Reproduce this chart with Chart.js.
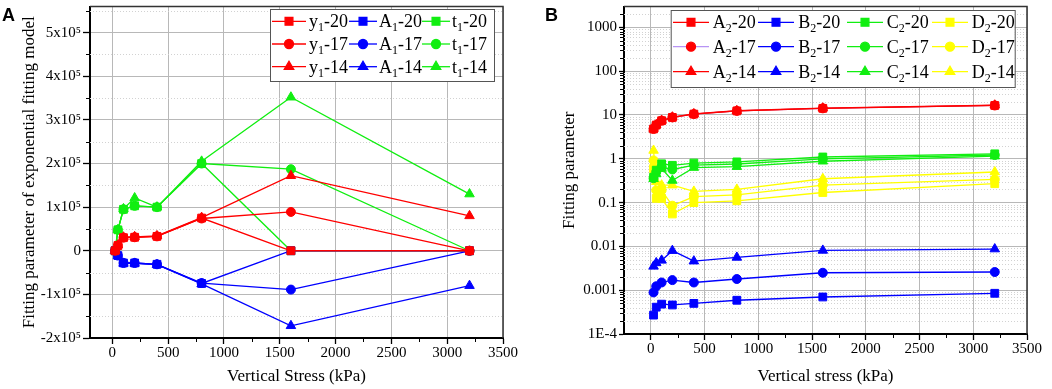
<!DOCTYPE html>
<html>
<head>
<meta charset="utf-8">
<script src="https://cdn.jsdelivr.net/npm/chart.js@4.4.1/dist/chart.umd.min.js"></script>
<style>
  body { margin: 0; background: #fff; }
  #wrap { position: relative; width: 1052px; height: 389px; overflow: hidden; }
  canvas { position: absolute; top: 0; }
  #ca { left: 0; }
  #cb { left: 520px; }
  .tag { position: absolute; font: bold 18px "Liberation Sans", Arial, sans-serif; color: #000; }
</style>
</head>
<body>
<div id="wrap">
  <canvas id="ca" width="520" height="389"></canvas>
  <canvas id="cb" width="532" height="389"></canvas>
  <div class="tag" style="left:2px;top:5px">A</div>
  <div class="tag" style="left:545px;top:5px">B</div>
</div>
<script>
// vertical stress levels (kPa)
var stress = [25, 50, 100, 200, 400, 800, 1600, 3200];

// panel A - exponential fitting model parameters
var y1_20 = [0, 12000, 30000, 31000, 33000, 75000, 0, 0];
var y1_17 = [0, 12000, 30000, 31000, 33000, 74000, 89000, 0];
var y1_14 = [0, 13000, 31000, 32000, 34000, 76000, 172000, 80000];
var A1_20 = [0, -11000, -28000, -28000, -31000, -75000, 0, 0];
var A1_17 = [0, -11000, -28000, -28000, -31000, -74000, -89000, 0];
var A1_14 = [0, -12000, -29000, -29000, -32000, -76000, -172000, -80000];
var t1_20 = [0, 48000, 95000, 103000, 100000, 200000, 0, 0];
var t1_17 = [0, 48000, 95000, 103000, 100000, 200000, 187000, 0];
var t1_14 = [0, 48000, 96000, 121000, 100000, 205000, 352000, 130000];

// panel B - fitting parameters (log axis)
var A2_20 = [4.8, 5.9, 7.4, 8.8, 10.5, 12.4, 14.2, 16.5];
var A2_17 = [4.8, 5.9, 7.4, 8.8, 10.5, 12.4, 14.2, 16.5];
var A2_14 = [4.9, 6.0, 7.5, 8.9, 10.6, 12.5, 14.3, 16.7];
var B2_20 = [0.00027, 0.00041, 0.00048, 0.00046, 0.0005, 0.00059, 0.0007, 0.00085];
var B2_17 = [0.00089, 0.00123, 0.0015, 0.0017, 0.0015, 0.0018, 0.0025, 0.0026];
var B2_14 = [0.0035, 0.0042, 0.0048, 0.008, 0.0046, 0.0056, 0.0081, 0.0087];
var C2_20 = [0.38, 0.55, 0.77, 0.71, 0.8, 0.85, 1.1, 1.3];
var C2_17 = [0.36, 0.5, 0.65, 0.57, 0.72, 0.76, 1.0, 1.22];
var C2_14 = [0.35, 0.45, 0.6, 0.32, 0.63, 0.66, 0.88, 1.15];
var D2_20 = [0.6, 0.125, 0.125, 0.055, 0.1, 0.11, 0.17, 0.27];
var D2_17 = [0.92, 0.19, 0.19, 0.085, 0.137, 0.15, 0.25, 0.34];
var D2_14 = [1.55, 0.3, 0.25, 0.25, 0.18, 0.2, 0.35, 0.5];

// ticks
var tickX = [0, 500, 1000, 1500, 2000, 2500, 3000, 3500];
var tickX_labels = ['0', '500', '1000', '1500', '2000', '2500', '3000', '3500'];
var tickA_y = [-200000, -100000, 0, 100000, 200000, 300000, 400000, 500000];
var tickA_yLabels = ['-2x10\u2075', '-1x10\u2075', '0', '1x10\u2075', '2x10\u2075', '3x10\u2075', '4x10\u2075', '5x10\u2075'];
var tickB_y = [0.0001, 0.001, 0.01, 0.1, 1, 10, 100, 1000];
var tickB_yLabels = ['1E-4', '0.001', '0.01', '0.1', '1', '10', '100', '1000'];

var RED = '#ff0000', BLUE = '#0000ff', GREEN = '#11ee11', YELLOW = '#ffff00';
var SERIF = '"Liberation Serif", "Times New Roman", serif';

Chart.defaults.font.family = SERIF;
Chart.defaults.color = '#000';

function series(label, data, color, shape, lineColor) {
  return {
    label: label,
    data: stress.map(function (x, i) { return { x: x, y: data[i] }; }),
    borderColor: lineColor || color,
    backgroundColor: color,
    pointBackgroundColor: color,
    pointBorderColor: color,
    pointBorderWidth: 1,
    pointStyle: shape,
    pointRadius: shape === 'circle' ? 4.5 : 5.5,
    borderWidth: 1.3,
    tension: 0
  };
}

function drawLabel(ctx, text, x, y) {
  ctx.textBaseline = 'alphabetic';
  ctx.textAlign = 'left';
  for (var i = 0; i < text.length; i++) {
    var code = text.charCodeAt(i), ch = text[i];
    if (code >= 0x2080 && code <= 0x2089) {
      ch = String(code - 0x2080);
      ctx.font = '12px ' + SERIF;
      ctx.fillText(ch, x, y + 4);
    } else {
      ctx.font = '18px ' + SERIF;
      ctx.fillText(ch, x, y);
    }
    x += ctx.measureText(ch).width;
  }
}

var extras = {
  id: 'extras',
  beforeDatasetsDraw: function (chart, args, o) {
    var ctx = chart.ctx, a = chart.chartArea, ys = chart.scales.y;
    ctx.save();
    ctx.strokeStyle = '#d2d2d2';
    ctx.lineWidth = 1;
    ctx.setLineDash([1, 2]);
    o.minorY.forEach(function (v) {
      var p = Math.round(ys.getPixelForValue(v)) + 0.5;
      if (p <= a.top + 1 || p >= a.bottom - 1) return;
      ctx.beginPath(); ctx.moveTo(a.left, p); ctx.lineTo(a.right, p); ctx.stroke();
    });
    ctx.restore();
  },
  afterDraw: function (chart, args, o) {
    var ctx = chart.ctx, a = chart.chartArea, xs = chart.scales.x, ys = chart.scales.y;
    ctx.save();
    ctx.strokeStyle = '#000';
    ctx.lineWidth = 1;
    o.minorY.forEach(function (v) {
      var p = Math.round(ys.getPixelForValue(v)) + 0.5;
      if (p < a.top || p > a.bottom) return;
      ctx.beginPath(); ctx.moveTo(a.left - 4, p); ctx.lineTo(a.left, p); ctx.stroke();
    });
    o.minorX.forEach(function (v) {
      var p = Math.round(xs.getPixelForValue(v)) + 0.5;
      if (p < a.left || p > a.right) return;
      ctx.beginPath(); ctx.moveTo(p, a.bottom); ctx.lineTo(p, a.bottom + 4); ctx.stroke();
    });
    // top and right frame
    ctx.strokeStyle = '#333';
    ctx.lineWidth = 1.5;
    ctx.beginPath();
    ctx.moveTo(a.left, a.top); ctx.lineTo(a.right, a.top); ctx.lineTo(a.right, a.bottom);
    ctx.stroke();

    // legend box
    var b = o.box;
    ctx.fillStyle = '#fff';
    ctx.fillRect(b[0], b[1], b[2], b[3]);
    ctx.strokeStyle = '#555';
    ctx.lineWidth = 1;
    ctx.strokeRect(b[0] + 0.5, b[1] + 0.5, b[2], b[3]);
    chart.data.datasets.forEach(function (ds, i) {
      var c = o.cols[Math.floor(i / 3)], ry = o.rows[i % 3];
      ctx.strokeStyle = ds.borderColor;
      ctx.lineWidth = 1.3;
      ctx.beginPath(); ctx.moveTo(c[0], ry); ctx.lineTo(c[1], ry); ctx.stroke();
      ctx.fillStyle = ds.pointBackgroundColor;
      ctx.strokeStyle = ds.pointBorderColor;
      Chart.helpers.drawPoint(ctx, { pointStyle: ds.pointStyle, radius: ds.pointRadius, borderWidth: 1, rotation: 0 },
        (c[0] + c[1]) / 2, ry);
      ctx.fillStyle = '#000';
      drawLabel(ctx, ds.label, c[2], ry + 6);
    });
    ctx.restore();
  }
};

function xScale(min, h, title) {
  return {
    type: 'linear', min: min, max: 3500,
    afterBuildTicks: function (s) { s.ticks = tickX.map(function (v) { return { value: v }; }); },
    afterFit: function (s) { s.height = h; s.paddingLeft = 0; s.paddingRight = 0; },
    ticks: {
      autoSkip: false, maxRotation: 0, padding: 0, color: '#000', font: { family: SERIF, size: 15 },
      callback: function (v) { var i = tickX.indexOf(v); return i < 0 ? '' : tickX_labels[i]; }
    },
    grid: { color: '#b8b8b8', lineWidth: 1, tickColor: '#000', tickLength: 6, tickWidth: 1.3 },
    border: { color: '#000', width: 2 },
    title: { display: true, text: title, color: '#000', font: { family: SERIF, size: 17 }, padding: { top: 0, bottom: 2 } }
  };
}

function yScale(type, min, max, w, vals, labels, title, titlePad, tl) {
  return {
    type: type, min: min, max: max,
    afterBuildTicks: function (s) { s.ticks = vals.map(function (v) { return { value: v }; }); },
    afterFit: function (s) { s.width = w; s.paddingTop = 0; s.paddingBottom = 0; },
    ticks: {
      autoSkip: false, padding: 2, color: '#000', font: { family: SERIF, size: 15 },
      callback: function (v) { var i = vals.indexOf(v); return i < 0 ? '' : labels[i]; }
    },
    grid: { color: '#b8b8b8', lineWidth: 1, tickColor: '#000', tickLength: tl, tickWidth: 1.3 },
    border: { color: '#000', width: 2 },
    title: { display: true, text: title, color: '#000', font: { family: SERIF, size: 17 }, padding: { top: titlePad, bottom: 0 } }
  };
}

var minorA_y = [];
for (var v = -150000; v < 560000; v += 100000) minorA_y.push(v);
var minorX = [250, 750, 1250, 1750, 2250, 2750, 3250];
var minorB_y = [];
for (var k = -4; k <= 3; k++) {
  for (var m = 2; m <= 9; m++) {
    var mv = Number((m * Math.pow(10, k)).toPrecision(3));
    if (mv < 3000) minorB_y.push(mv);
  }
}

new Chart(document.getElementById('ca'), {
  type: 'line',
  data: {
    datasets: [
      series('y\u2081-20', y1_20, RED, 'rect'),
      series('y\u2081-17', y1_17, RED, 'circle'),
      series('y\u2081-14', y1_14, RED, 'triangle'),
      series('A\u2081-20', A1_20, BLUE, 'rect'),
      series('A\u2081-17', A1_17, BLUE, 'circle'),
      series('A\u2081-14', A1_14, BLUE, 'triangle'),
      series('t\u2081-20', t1_20, GREEN, 'rect'),
      series('t\u2081-17', t1_17, GREEN, 'circle'),
      series('t\u2081-14', t1_14, GREEN, 'triangle')
    ]
  },
  options: {
    responsive: false, animation: false, devicePixelRatio: 1, events: [],
    layout: { padding: { left: 0, right: 17, top: 4, bottom: 0 } },
    scales: {
      x: xScale(-200, 51, 'Vertical Stress (kPa)'),
      y: yScale('linear', -200000, 560000, 90, tickA_y, tickA_yLabels,
        'Fitting parameter of exponential fitting model', 19, 7)
    },
    plugins: {
      legend: { display: false }, tooltip: { enabled: false },
      extras: {
        minorY: minorA_y, minorX: minorX,
        box: [270, 9, 224, 72],
        rows: [21.3, 44, 66.7],
        cols: [[272, 306, 309], [349, 377, 379], [422, 450, 452]]
      }
    }
  },
  plugins: [extras]
});

var dsB = [
  series('A\u2082-20', A2_20, RED, 'rect'),
  series('A\u2082-17', A2_17, RED, 'circle', '#b794f4'),
  series('A\u2082-14', A2_14, RED, 'triangle'),
  series('B\u2082-20', B2_20, BLUE, 'rect'),
  series('B\u2082-17', B2_17, BLUE, 'circle'),
  series('B\u2082-14', B2_14, BLUE, 'triangle'),
  series('C\u2082-20', C2_20, GREEN, 'rect'),
  series('C\u2082-17', C2_17, GREEN, 'circle'),
  series('C\u2082-14', C2_14, GREEN, 'triangle'),
  series('D\u2082-20', D2_20, YELLOW, 'rect'),
  series('D\u2082-17', D2_17, YELLOW, 'circle'),
  series('D\u2082-14', D2_14, YELLOW, 'triangle')
];
dsB[1].order = 1;

new Chart(document.getElementById('cb'), {
  type: 'line',
  data: { datasets: dsB },
  options: {
    responsive: false, animation: false, devicePixelRatio: 1, events: [],
    layout: { padding: { left: 0, right: 25, top: 3, bottom: 0 } },
    scales: {
      x: xScale(-250, 55, 'Vertical stress (kPa)'),
      y: yScale('logarithmic', 0.0001, 3000, 104, tickB_y, tickB_yLabels, 'Fitting parameter', 39, 5)
    },
    plugins: {
      legend: { display: false }, tooltip: { enabled: false },
      extras: {
        minorY: minorB_y, minorX: minorX,
        box: [150.7, 10, 344, 77],
        rows: [22.3, 46.7, 71.7],
        cols: [[153, 189, 192.7], [238, 274, 278.3], [327, 363, 366.7], [412, 448, 451.7]]
      }
    }
  },
  plugins: [extras]
});
</script>
</body>
</html>
